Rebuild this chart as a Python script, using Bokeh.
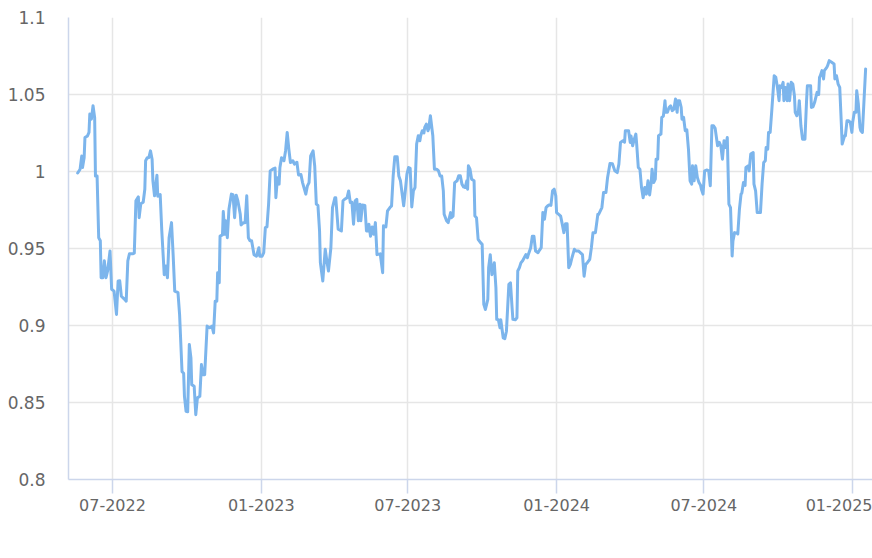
import pandas as pd
from bokeh.plotting import figure
from bokeh.models import ColumnDataSource, FixedTicker, Legend, LegendItem, Range1d
from bokeh.embed import file_html
from bokeh.resources import INLINE

# ---------------- data ----------------
series_name = "CPR Hydrogen"
START_DATE = "2022-05-17"

# days after START_DATE
day_offsets = [
    2, 5, 7, 8, 10, 11, 14, 16, 17, 19, 21, 23, 24, 26, 28, 30, 31, 33, 35, 37,
    39, 42, 44, 47, 50, 52, 54, 56, 60, 62, 64, 66, 70, 72, 74, 77, 78, 80, 83, 85,
    86, 88, 90, 92, 94, 95, 97, 100, 101, 104, 106, 109, 111, 113, 115, 118, 120, 122, 126, 128,
    131, 133, 134, 136, 138, 140, 142, 143, 146, 148, 150, 153, 155, 157, 159, 162, 165, 168, 170, 172,
    174, 175, 177, 178, 181, 182, 184, 185, 187, 189, 192, 194, 196, 198, 200, 203, 204, 207, 209, 211,
    213, 215, 217, 220, 223, 226, 227, 230, 232, 234, 236, 238, 240, 243, 246, 247, 249, 251, 252, 254,
    257, 259, 261, 263, 265, 268, 270, 273, 275, 278, 280, 284, 286, 288, 290, 293, 295, 297, 299, 301,
    302, 305, 308, 310, 312, 315, 317, 320, 321, 324, 328, 330, 332, 335, 337, 339, 341, 343, 345, 347,
    349, 351, 352, 354, 357, 359, 361, 362, 364, 366, 368, 370, 372, 376, 379, 380, 383, 385, 388, 390,
    392, 394, 397, 399, 401, 405, 407, 409, 411, 413, 415, 417, 419, 421, 423, 425, 426, 428, 430, 431,
    433, 435, 436, 438, 441, 443, 446, 448, 450, 452, 454, 455, 458, 460, 463, 464, 466, 468, 471, 473,
    475, 477, 479, 481, 483, 484, 485, 487, 489, 492, 493, 495, 497, 500, 502, 504, 506, 509, 510, 512,
    514, 515, 517, 519, 520, 522, 524, 525, 528, 530, 532, 535, 537, 539, 540, 543, 545, 546, 548, 550,
    552, 554, 556, 558, 559, 562, 564, 566, 568, 571, 573, 575, 577, 579, 581, 583, 585, 587, 589, 591,
    593, 594, 597, 599, 601, 603, 605, 607, 609, 611, 613, 616, 618, 621, 624, 626, 628, 630, 632, 635,
    637, 639, 642, 645, 646, 650, 652, 655, 657, 660, 663, 666, 669, 671, 673, 676, 678, 679, 683, 685,
    686, 688, 690, 692, 693, 695, 697, 699, 701, 703, 705, 707, 709, 711, 712, 714, 716, 717, 719, 720,
    723, 724, 726, 728, 729, 731, 733, 735, 737, 739, 741, 743, 744, 746, 748, 749, 751, 753, 755, 757,
    759, 761, 762, 764, 766, 768, 770, 772, 773, 775, 777, 780, 782, 784, 786, 788, 790, 793, 795, 797,
    799, 801, 803, 805, 807, 809, 811, 812, 814, 817, 818, 820, 822, 823, 825, 827, 828, 831, 832, 834,
    837, 838, 840, 842, 846, 848, 850, 852, 853, 855, 856, 858, 860, 861, 863, 865, 867, 869, 870, 872,
    874, 875, 877, 879, 880, 882, 884, 886, 888, 889, 891, 893, 894, 896, 898, 901, 903, 904, 908, 909,
    911, 913, 914, 916, 918, 919, 920, 922, 924, 925, 928, 929, 931, 934, 937, 938, 940, 942, 944, 946,
    947, 950, 951, 953, 955, 957, 959, 960, 962, 964, 965, 967, 969, 970, 972, 974, 976,
]

cpr_values = [
    0.999, 1.0015, 1.010, 1.0026, 1.009, 1.022, 1.023, 1.0254, 1.0373, 1.034, 1.0427, 1.035, 0.997, 0.997, 0.957, 0.955, 0.931, 0.931, 0.942, 0.931,
    0.9354, 0.9484, 0.9235, 0.9223, 0.9072, 0.9289, 0.929, 0.919, 0.917, 0.9158, 0.942, 0.9466, 0.9466, 0.947, 0.981, 0.9835, 0.970, 0.979, 0.980, 0.9885,
    1.007, 1.009, 1.009, 1.0134, 1.008, 0.994, 0.9842, 0.9976, 0.984, 0.985, 0.9614, 0.933, 0.9386, 0.931, 0.957, 0.9668, 0.946, 0.9223, 0.9213, 0.907,
    0.870, 0.869, 0.854, 0.8443, 0.844, 0.8877, 0.879, 0.8616, 0.8606, 0.8421, 0.853, 0.854, 0.8746, 0.868, 0.868, 0.8996, 0.8985, 0.8996, 0.8952, 0.9158,
    0.9158, 0.9343, 0.9277, 0.958, 0.9588, 0.974, 0.9592, 0.968, 0.957, 0.9755, 0.9853, 0.985, 0.970, 0.9846, 0.981, 0.9722, 0.9653, 0.9668, 0.9668, 0.9842,
    0.957, 0.955, 0.955, 0.946, 0.945, 0.9505, 0.945, 0.945, 0.9473, 0.9635, 0.964, 0.9788, 1.0004, 1.0015, 1.0022, 0.983, 0.996, 0.9918, 1.0026, 1.009,
    1.007, 1.0135, 1.0254, 1.0146, 1.0058, 1.007, 1.0048, 1.006, 0.9978, 0.998, 0.9928, 0.9853, 0.9907, 0.9928, 1.0102, 1.0134, 1.0037, 0.9788, 0.978, 0.9614,
    0.9408, 0.9289, 0.9495, 0.942, 0.9354, 0.9505, 0.9766, 0.983, 0.983, 0.9625, 0.9614, 0.981, 0.982, 0.983, 0.9874, 0.9798, 0.980, 0.9658, 0.981, 0.982,
    0.968, 0.9788, 0.968, 0.9783, 0.978, 0.9614, 0.9614, 0.9658, 0.958, 0.964, 0.9593, 0.9668, 0.946, 0.9465, 0.9343, 0.9647, 0.964, 0.9744, 0.9766, 0.9777,
    0.9972, 1.0095, 1.0095, 0.997, 0.994, 0.9777, 0.9874, 0.9983, 1.0026, 1.002, 0.977, 0.9874, 0.9896, 1.0178, 1.0232, 1.020, 1.0232, 1.0265, 1.025, 1.0286,
    1.0308, 1.0265, 1.028, 1.0362, 1.0232, 1.0015, 1.0015, 1.0004, 0.997, 0.997, 0.9874, 0.9722, 0.968, 0.9668, 0.9733, 0.970, 0.971, 0.9928, 0.994, 0.9972,
    0.9972, 0.9918, 0.990, 0.9896, 0.994, 0.9885, 1.0037, 1.0015, 0.995, 0.994, 0.9711, 0.970, 0.956, 0.9538, 0.9527, 0.9137, 0.9104, 0.917, 0.9375, 0.946,
    0.933, 0.9354, 0.9408, 0.9245, 0.904, 0.9037, 0.8985, 0.9037, 0.892, 0.8915, 0.8963, 0.9267, 0.9277, 0.9115, 0.904, 0.9037, 0.905, 0.9354, 0.9375, 0.9408,
    0.942, 0.944, 0.946, 0.944, 0.946, 0.9505, 0.958, 0.958, 0.9484, 0.9473, 0.949, 0.9505, 0.9733, 0.969, 0.9766, 0.9777, 0.9783, 0.978, 0.9874, 0.9885,
    0.9842, 0.9733, 0.972, 0.971, 0.9658, 0.9603, 0.966, 0.966, 0.9375, 0.9397, 0.944, 0.9495, 0.9484, 0.9484, 0.947, 0.946, 0.932, 0.9397, 0.9408, 0.943,
    0.9505, 0.9603, 0.9603, 0.9722, 0.9722, 0.9766, 0.9863, 0.9863, 0.996, 1.0052, 1.005, 1.0004, 0.9993, 1.0048, 1.0189, 1.020, 1.019, 1.0265, 1.0265, 1.0189,
    1.023, 1.0167, 1.021, 1.0243, 1.0178, 1.0026, 1.0015, 0.9896, 0.983, 0.9896, 0.9853, 0.994, 0.9848, 0.993, 1.0015, 0.9928, 0.995, 1.008, 1.008, 1.0232,
    1.0243, 1.0351, 1.036, 1.046, 1.0384, 1.0384, 1.0416, 1.0427, 1.0395, 1.0405, 1.0471, 1.0384, 1.046, 1.046, 1.0416, 1.034, 1.0351, 1.0265, 1.027, 1.0146,
    0.994, 0.9918, 1.0037, 0.994, 1.0037, 0.9962, 0.9928, 0.991, 0.9885, 0.9853, 1.0004, 1.001, 1.0004, 0.9907, 1.0297, 1.0297, 1.028, 1.0167, 1.019, 1.0167,
    1.008, 1.020, 1.0156, 1.0221, 0.9788, 0.9766, 0.9451, 0.9549, 0.9603, 0.960, 0.9595, 0.9755, 0.9853, 0.986, 0.9928, 0.991, 1.0026, 1.0037, 1.0004, 1.0113,
    1.0123, 0.9918, 0.9874, 0.9733, 0.9733, 0.9918, 1.0058, 1.007, 1.0156, 1.0145, 1.0254, 1.0254, 1.0395, 1.0471, 1.0622, 1.0611, 1.0546, 1.046, 1.0557, 1.0546,
    1.0579, 1.046, 1.0546, 1.046, 1.0568, 1.046, 1.0579, 1.0568, 1.0492, 1.0384, 1.0362, 1.0395, 1.046, 1.0297, 1.021, 1.021, 1.046, 1.0557, 1.0557, 1.0416,
    1.042, 1.0449, 1.0471, 1.0514, 1.050, 1.0611, 1.0622, 1.0655, 1.0601, 1.0655, 1.0676, 1.0687, 1.072, 1.0709, 1.0698, 1.0601, 1.0622, 1.0568, 1.0546, 1.0308,
    1.0178, 1.0232, 1.0232, 1.033, 1.033, 1.0319, 1.0254, 1.0319, 1.0384, 1.0384, 1.0525, 1.0438, 1.0286, 1.0265, 1.0254, 1.046, 1.0666,
]

x_tick_dates = ["2022-07-01", "2023-01-01", "2023-07-01", "2024-01-01", "2024-07-01", "2025-01-01"]
x_tick_labels = ["07-2022", "01-2023", "07-2023", "01-2024", "07-2024", "01-2025"]
y_ticks = [0.8, 0.85, 0.9, 0.95, 1.0, 1.05, 1.1]
y_tick_labels = ["0.8", "0.85", "0.9", "0.95", "1", "1.05", "1.1"]

# ---------------- build ----------------
dates = pd.Timestamp(START_DATE) + pd.to_timedelta(day_offsets, unit="D")
source = ColumnDataSource(dict(date=dates, value=cpr_values))

FONT = "DejaVu Sans"
GRID = "#e6e6e6"
AXIS = "#ccd6eb"

p = figure(
    frame_width=804, frame_height=462,
    x_axis_type="datetime",
    x_range=Range1d(pd.Timestamp("2022-05-07 16:00"), pd.Timestamp("2025-01-25 12:00")),
    y_range=Range1d(0.8, 1.1),
    output_backend="svg", toolbar_location=None,
    min_border_left=68, min_border_right=0, min_border_top=17, min_border_bottom=79,
)
p.outline_line_color = None
p.background_fill_color = "white"
p.border_fill_color = "white"

r = p.line("date", "value", source=source, line_color="#7cb5ec", line_width=3,
           line_join="round", line_cap="round")

x_ms = [int(pd.Timestamp(d).value // 10**6) for d in x_tick_dates]
xt = FixedTicker(ticks=x_ms)
p.xaxis.ticker = xt
p.xgrid.ticker = xt
p.xaxis.major_label_overrides = dict(zip(x_ms, x_tick_labels))

yt = FixedTicker(ticks=y_ticks)
p.yaxis.ticker = yt
p.ygrid.ticker = yt
p.yaxis.major_label_overrides = dict(zip(y_ticks, y_tick_labels))

for g in (p.xgrid, p.ygrid):
    g.grid_line_color = GRID
    g.grid_line_width = 1.5

ax = p.xaxis[0]
ax.axis_line_color = AXIS
ax.axis_line_width = 1.5
ax.major_tick_line_color = AXIS
ax.major_tick_line_width = 1.5
ax.major_tick_out = 14
ax.major_tick_in = 0
ax.minor_tick_line_color = None
ax.major_label_standoff = 5
ax.major_label_text_font = FONT
ax.major_label_text_font_size = "16px"
ax.major_label_text_color = "#666666"

ay = p.yaxis[0]
ay.axis_line_color = AXIS
ay.axis_line_width = 1.5
ay.major_tick_line_color = None
ay.major_tick_out = 0
ay.major_tick_in = 0
ay.minor_tick_line_color = None
ay.major_label_standoff = 23
ay.major_label_text_font = FONT
ay.major_label_text_font_size = "17px"
ay.major_label_text_color = "#666666"

legend = Legend(
    items=[LegendItem(label=series_name, renderers=[r])],
    location="top", orientation="horizontal",
    padding=0, margin=8, spacing=0,
    glyph_width=21, glyph_height=20, label_standoff=7,
    label_text_font=FONT, label_text_font_style="bold",
    label_text_font_size="17px", label_text_color="#333333",
    border_line_color=None, background_fill_alpha=0,
)
p.add_layout(legend, "below")

open("out.html", "w").write(file_html(p, INLINE))
